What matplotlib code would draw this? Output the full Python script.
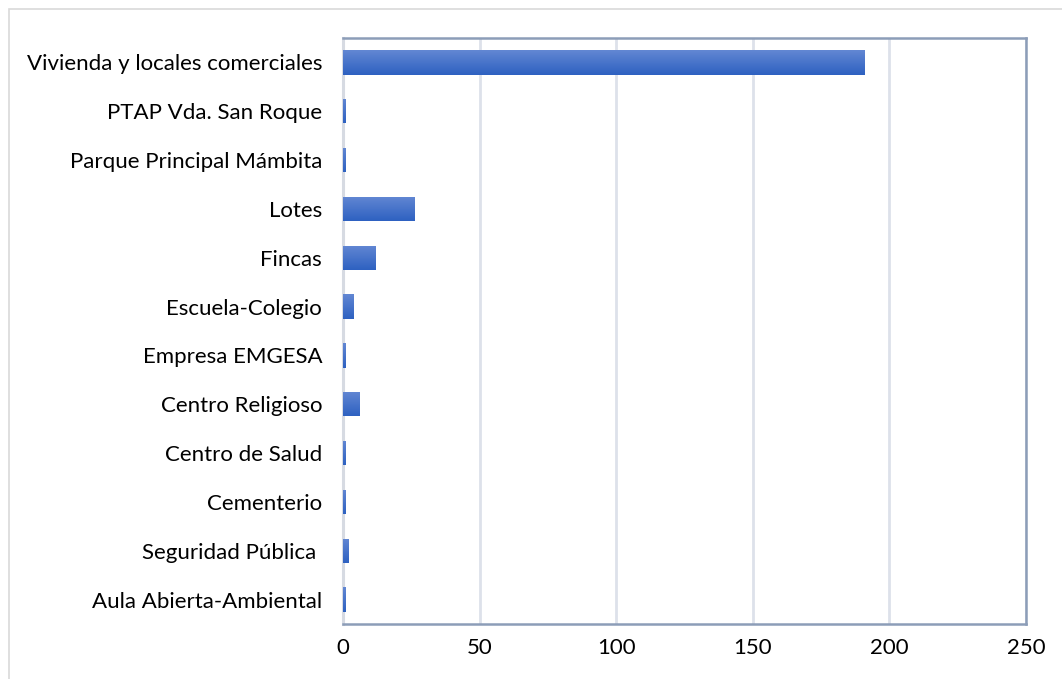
import numpy as np
import matplotlib.pyplot as plt
from matplotlib.colors import LinearSegmentedColormap
from matplotlib.patches import Rectangle

categorias = ['Aula Abierta-Ambiental', 'Seguridad Pública ', 'Cementerio',
              'Centro de Salud', 'Centro Religioso', 'Empresa EMGESA',
              'Escuela-Colegio', 'Fincas', 'Lotes', 'Parque Principal Mámbita',
              'PTAP Vda. San Roque', 'Vivienda y locales comerciales']
valores = [1, 2, 1, 1, 6, 1, 4, 12, 26, 1, 1, 191]
xticks = [0, 50, 100, 150, 200, 250]

plt.rcParams['font.family'] = ['Lato', 'DejaVu Sans']

fig = plt.figure(figsize=(10.62, 6.79), dpi=100)
ax = fig.add_axes([343/1062, 1 - 624/679, (1026-343)/1062, (624-38)/679])

# borde exterior del grafico
fig.patches.append(Rectangle((9/1062, -0.1), 1.2, 1 - 9/679 + 0.1, transform=fig.transFigure,
                             fill=False, edgecolor='#D9D9D9', linewidth=1.2, zorder=0))

y = np.arange(len(categorias))
bars = ax.barh(y, valores, height=0.5, color='none')

# degradado azul en las barras
cmap = LinearSegmentedColormap.from_list('azul', ['#2E61C1', '#6287D3'])
grad = np.linspace(0, 1, 64).reshape(-1, 1)
for b in bars:
    x0, y0 = b.get_x(), b.get_y()
    w, h = b.get_width(), b.get_height()
    im = ax.imshow(grad, cmap=cmap, aspect='auto', origin='lower',
                   extent=[x0, x0 + w, y0, y0 + h], zorder=3)
    im.set_clip_path(b)

ax.set_xlim(0, 250)
ax.set_ylim(-0.5, len(categorias) - 0.5)
ax.set_yticks(y)
ax.set_yticklabels(categorias, fontsize=16)
ax.set_xticks(xticks)
ax.set_xticklabels([str(t) for t in xticks], fontsize=16)
ax.tick_params(axis='both', length=0)
ax.tick_params(axis='y', pad=15)
ax.tick_params(axis='x', pad=10)

ax.grid(axis='x', color='#DDE1EA', linewidth=2)
ax.set_axisbelow(True)
for s in ['top', 'right', 'bottom']:
    ax.spines[s].set_color('#8C9DB8')
    ax.spines[s].set_linewidth(1.8)
ax.spines['left'].set_color('#D6DAE2')
ax.spines['left'].set_linewidth(2.2)
ax.spines['left'].set_zorder(2.5)

fig.savefig('out.png', dpi=100)
